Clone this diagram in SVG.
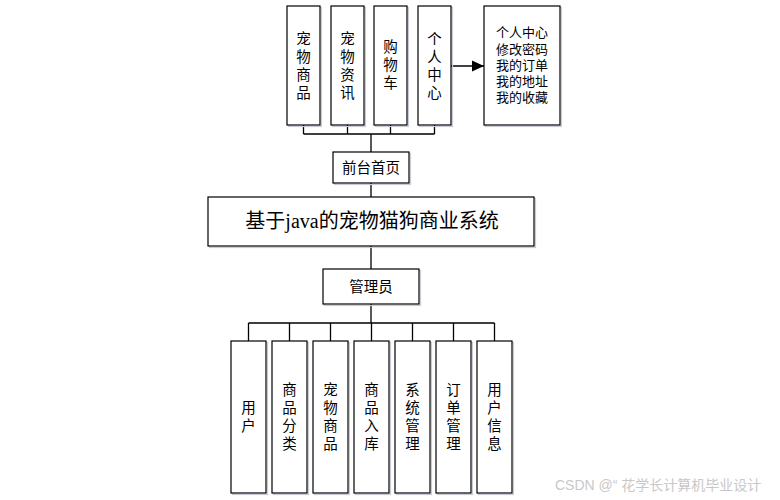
<svg xmlns="http://www.w3.org/2000/svg" width="780" height="500" viewBox="0 0 780 500">
<defs>
<marker id="arr" viewBox="0 0 12 12" refX="12" refY="6" markerWidth="12" markerHeight="12" markerUnits="userSpaceOnUse" orient="auto">
<path d="M0,0.5 L12,6 L0,11.5 z" fill="#000"/>
</marker>
</defs>
<style>
.box{fill:#fff;stroke:#000;stroke-width:1.2}
.sh{fill:none;stroke:#c8ccd4;stroke-width:1.2}
.ln{fill:none;stroke:#000;stroke-width:1.3}
.t{font-family:"Liberation Sans","Noto Sans CJK SC",sans-serif;font-size:14.5px;fill:#000;text-anchor:middle;dominant-baseline:central}
.s{font-size:13px}
.title{font-family:"Liberation Serif","Noto Sans CJK SC",serif;font-size:20px;fill:#000;text-anchor:middle;dominant-baseline:central}
.wm{font-family:"Liberation Sans","Noto Sans CJK SC",sans-serif;font-size:14px;fill:#c8c8c8}
</style>
<rect width="780" height="500" fill="#fff"/>
<g id="connectors">
<path class="ln" d="M303.5,125 V134 M347.5,125 V134 M390.5,125 V134 M434.5,125 V134 M303.5,134 H434.5 M371,134 V152"/>
<path class="ln" d="M371,183 V197 M371,246 V269 M371,304 V323"/>
<path class="ln" d="M248.5,323 H494.5 M248.5,323 V341 M289.5,323 V341 M330.5,323 V341 M371.5,323 V341 M412.5,323 V341 M453.5,323 V341 M494.5,323 V341"/>
<path class="ln" d="M451,66 H484" marker-end="url(#arr)"/>
</g>
<g id="n_petgoods">
<rect class="sh" x="288.5" y="7.5" width="33" height="119"/>
<rect class="box" x="287" y="6" width="33" height="119"/>
<text class="t" x="303.5" y="38.5"><tspan x="303.5" dy="0">宠</tspan><tspan x="303.5" dy="18.3">物</tspan><tspan x="303.5" dy="18.3">商</tspan><tspan x="303.5" dy="18.3">品</tspan></text>
</g>
<g id="n_petnews">
<rect class="sh" x="332.5" y="7.5" width="33" height="119"/>
<rect class="box" x="331" y="6" width="33" height="119"/>
<text class="t" x="347.5" y="38.5"><tspan x="347.5" dy="0">宠</tspan><tspan x="347.5" dy="18.3">物</tspan><tspan x="347.5" dy="18.3">资</tspan><tspan x="347.5" dy="18.3">讯</tspan></text>
</g>
<g id="n_cart">
<rect class="sh" x="375.5" y="7.5" width="33" height="119"/>
<rect class="box" x="374" y="6" width="33" height="119"/>
<text class="t" x="390.5" y="46.7"><tspan x="390.5" dy="0">购</tspan><tspan x="390.5" dy="18.3">物</tspan><tspan x="390.5" dy="18.3">车</tspan></text>
</g>
<g id="n_center">
<rect class="sh" x="419.5" y="7.5" width="33" height="119"/>
<rect class="box" x="418" y="6" width="33" height="119"/>
<text class="t" x="434.5" y="38.5"><tspan x="434.5" dy="0">个</tspan><tspan x="434.5" dy="18.3">人</tspan><tspan x="434.5" dy="18.3">中</tspan><tspan x="434.5" dy="18.3">心</tspan></text>
</g>
<g id="n_centerdetail">
<rect class="sh" x="485.5" y="7.5" width="76" height="119"/>
<rect class="box" x="484" y="6" width="76" height="119"/>
<text class="t s" x="522" y="32.3"><tspan x="522" dy="0">个人中心</tspan><tspan x="522" dy="16.2">修改密码</tspan><tspan x="522" dy="16.2">我的订单</tspan><tspan x="522" dy="16.2">我的地址</tspan><tspan x="522" dy="16.2">我的收藏</tspan></text>
</g>
<g id="n_front">
<rect class="sh" x="334.5" y="153.5" width="76" height="31"/>
<rect class="box" x="333" y="152" width="76" height="31"/>
<text class="t" x="371" y="167.5">前台首页</text>
</g>
<g id="n_system">
<rect class="sh" x="209.5" y="198.5" width="326" height="49"/>
<rect class="box" x="208" y="197" width="326" height="49"/>
<text class="title" x="372" y="221">基于java的宠物猫狗商业系统</text>
</g>
<g id="n_admin">
<rect class="sh" x="324.5" y="270.5" width="96" height="35"/>
<rect class="box" x="323" y="269" width="96" height="35"/>
<text class="t" x="371" y="286.5">管理员</text>
</g>
<g id="n_user">
<rect class="sh" x="232.5" y="342.5" width="35" height="152"/>
<rect class="box" x="231" y="341" width="35" height="152"/>
<text class="t" x="248.5" y="407.85"><tspan x="248.5" dy="0">用</tspan><tspan x="248.5" dy="18.3">户</tspan></text>
</g>
<g id="n_category">
<rect class="sh" x="273.5" y="342.5" width="35" height="152"/>
<rect class="box" x="272" y="341" width="35" height="152"/>
<text class="t" x="289.5" y="389.55"><tspan x="289.5" dy="0">商</tspan><tspan x="289.5" dy="18.3">品</tspan><tspan x="289.5" dy="18.3">分</tspan><tspan x="289.5" dy="18.3">类</tspan></text>
</g>
<g id="n_goods">
<rect class="sh" x="314.5" y="342.5" width="35" height="152"/>
<rect class="box" x="313" y="341" width="35" height="152"/>
<text class="t" x="330.5" y="389.55"><tspan x="330.5" dy="0">宠</tspan><tspan x="330.5" dy="18.3">物</tspan><tspan x="330.5" dy="18.3">商</tspan><tspan x="330.5" dy="18.3">品</tspan></text>
</g>
<g id="n_stock">
<rect class="sh" x="355.5" y="342.5" width="35" height="152"/>
<rect class="box" x="354" y="341" width="35" height="152"/>
<text class="t" x="371.5" y="389.55"><tspan x="371.5" dy="0">商</tspan><tspan x="371.5" dy="18.3">品</tspan><tspan x="371.5" dy="18.3">入</tspan><tspan x="371.5" dy="18.3">库</tspan></text>
</g>
<g id="n_sysmgr">
<rect class="sh" x="396.5" y="342.5" width="35" height="152"/>
<rect class="box" x="395" y="341" width="35" height="152"/>
<text class="t" x="412.5" y="389.55"><tspan x="412.5" dy="0">系</tspan><tspan x="412.5" dy="18.3">统</tspan><tspan x="412.5" dy="18.3">管</tspan><tspan x="412.5" dy="18.3">理</tspan></text>
</g>
<g id="n_order">
<rect class="sh" x="437.5" y="342.5" width="35" height="152"/>
<rect class="box" x="436" y="341" width="35" height="152"/>
<text class="t" x="453.5" y="389.55"><tspan x="453.5" dy="0">订</tspan><tspan x="453.5" dy="18.3">单</tspan><tspan x="453.5" dy="18.3">管</tspan><tspan x="453.5" dy="18.3">理</tspan></text>
</g>
<g id="n_userinfo">
<rect class="sh" x="478.5" y="342.5" width="35" height="152"/>
<rect class="box" x="477" y="341" width="35" height="152"/>
<text class="t" x="494.5" y="389.55"><tspan x="494.5" dy="0">用</tspan><tspan x="494.5" dy="18.3">户</tspan><tspan x="494.5" dy="18.3">信</tspan><tspan x="494.5" dy="18.3">息</tspan></text>
</g>
<text class="wm" x="555" y="490">CSDN @“ 花学长计算机毕业设计</text>
</svg>
